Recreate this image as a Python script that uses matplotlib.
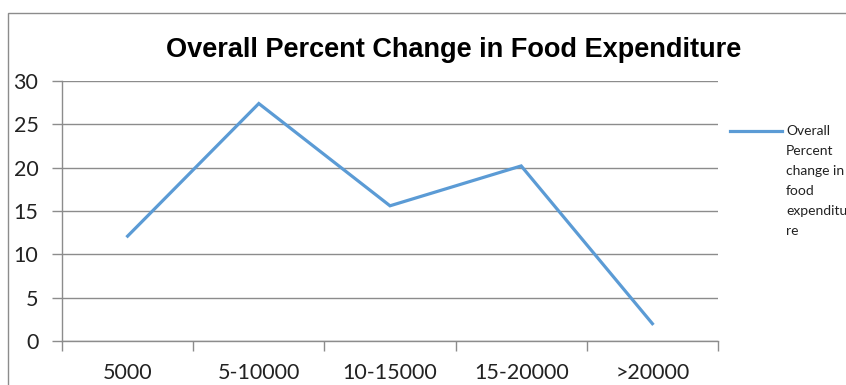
import matplotlib
matplotlib.use("Agg")
import matplotlib.pyplot as plt
from matplotlib.patches import Rectangle
from matplotlib.lines import Line2D

categories = ["5000", "5-10000", "10-15000", "15-20000", ">20000"]
pct_change = [12.1, 27.4, 15.6, 20.2, 2.0]
y_ticks = [0, 5, 10, 15, 20, 25, 30]
series_name = "Overall\nPercent\nchange in\nfood\nexpenditu\nre"

W, H = 846, 385
fig = plt.figure(figsize=(W / 100, H / 100), dpi=100)

# outer chart frame (left and top edges visible)
fig.patches.append(Rectangle((8 / W, -0.1), 1.2, (H - 13) / H + 0.1,
                             transform=fig.transFigure, fill=False,
                             edgecolor="#8c8c8c", linewidth=1.0))

ax = fig.add_axes([62 / W, 44 / H, (718 - 62) / W, (341 - 81) / H])
x = list(range(len(categories)))
line_color = "#5B9BD5"
ax.plot(x, pct_change, color=line_color, linewidth=2.3, solid_joinstyle="miter")

ax.set_xlim(-0.5, len(categories) - 0.5)
ax.set_ylim(0, 30)
ax.set_yticks(y_ticks)
ax.set_yticklabels([str(v) for v in y_ticks], fontsize=15.5, family="Lato", color="#222222")
ax.set_xticks([i - 0.5 for i in range(len(categories) + 1)], minor=False)
ax.set_xticklabels([])
ax.set_xticks(x, minor=True)
ax.set_xticklabels(categories, minor=True, fontsize=15.5, family="Lato", color="#222222")
ax.tick_params(axis="x", which="major", length=7, color="#8c8c8c", width=1)
ax.tick_params(axis="x", which="minor", length=0, pad=16)
ax.tick_params(axis="y", length=7, color="#8c8c8c", width=1, pad=10)

ax.grid(axis="y", color="#8c8c8c", linewidth=1)
ax.set_axisbelow(True)
for side in ("top", "right"):
    ax.spines[side].set_visible(False)
for side in ("left", "bottom"):
    ax.spines[side].set_color("#8c8c8c")
    ax.spines[side].set_linewidth(1)

fig.text(454 / W, 1 - 50 / H, "Overall Percent Change in Food Expenditure",
         ha="center", va="center", fontsize=19.5, fontweight="bold",
         family="Liberation Sans", color="black")

# legend entry
fig.add_artist(Line2D([730 / W, 782 / W], [1 - 131 / H, 1 - 131 / H],
                      transform=fig.transFigure, color=line_color, linewidth=2.3))
fig.text(786 / W, 1 - 125 / H, series_name, ha="left", va="top",
         fontsize=10, family="Lato", color="#222222", linespacing=1.8)

fig.savefig("out.png", dpi=100)
